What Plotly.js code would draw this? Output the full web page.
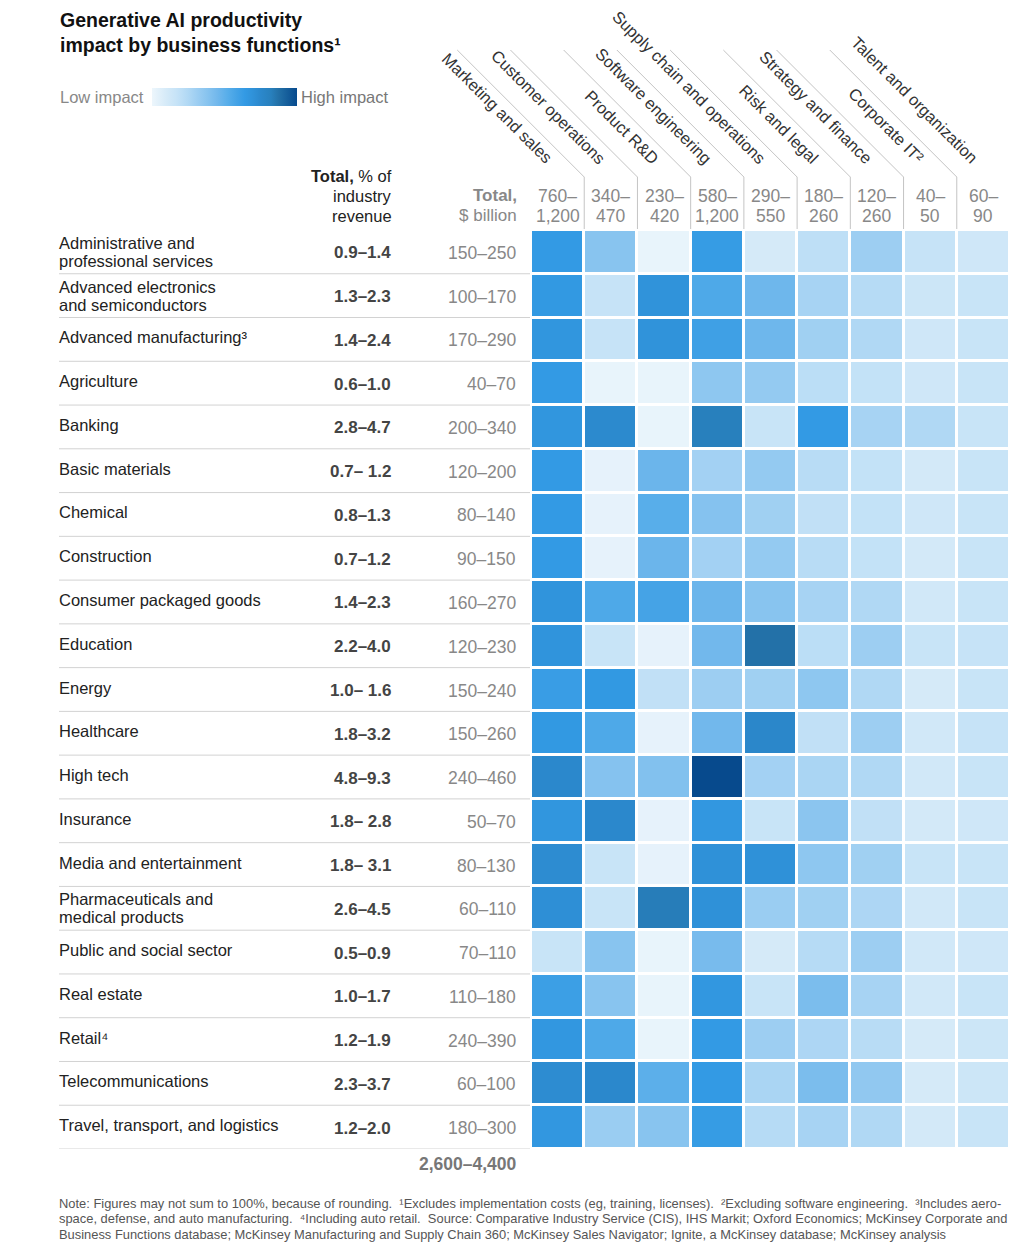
<!DOCTYPE html>
<html>
<head>
<meta charset="utf-8">
<script src="https://cdn.plot.ly/plotly-3.0.1.min.js"></script>
<style>html,body{margin:0;padding:0;background:#fff;}#chart{width:1023px;height:1249px;}</style>
</head>
<body>
<div id="chart"></div>
<script>
// ---------- DATA ----------
var industries = [
  "Administrative and<br>professional services",
  "Advanced electronics<br>and semiconductors",
  "Advanced manufacturing³",
  "Agriculture",
  "Banking",
  "Basic materials",
  "Chemical",
  "Construction",
  "Consumer packaged goods",
  "Education",
  "Energy",
  "Healthcare",
  "High tech",
  "Insurance",
  "Media and entertainment",
  "Pharmaceuticals and<br>medical products",
  "Public and social sector",
  "Real estate",
  "Retail⁴",
  "Telecommunications",
  "Travel, transport, and logistics"
];
var pctRevenue = ["0.9–1.4","1.3–2.3","1.4–2.4","0.6–1.0","2.8–4.7","0.7– 1.2","0.8–1.3","0.7–1.2","1.4–2.3","2.2–4.0","1.0– 1.6","1.8–3.2","4.8–9.3","1.8– 2.8","1.8– 3.1","2.6–4.5","0.5–0.9","1.0–1.7","1.2–1.9","2.3–3.7","1.2–2.0"];
var totalBillion = ["150–250","100–170","170–290","40–70","200–340","120–200","80–140","90–150","160–270","120–230","150–240","150–260","240–460","50–70","80–130","60–110","70–110","110–180","240–390","60–100","180–300"];
var grandTotal = "2,600–4,400";

var functions = ["Marketing and sales","Customer operations","Product R&D","Software engineering","Supply chain and operations","Risk and legal","Strategy and finance","Corporate IT²","Talent and organization"];
var functionTotals = ["760–<br>1,200","340–<br>470","230–<br>420","580–<br>1,200","290–<br>550","180–<br>260","120–<br>260","40–<br>50","60–<br>90"];

// relative impact (0 = low, 1 = high), read from cell shading
var marketingSales = [.64,.65,.67,.64,.67,.64,.64,.64,.68,.68,.62,.65,.75,.67,.73,.71,.16,.61,.66,.73,.66];
var customerOps    = [.38,.17,.17,.02,.74,.03,.03,.03,.55,.16,.65,.55,.39,.75,.16,.16,.38,.38,.55,.75,.32];
var productRD      = [.02,.69,.69,.02,.02,.47,.52,.47,.58,.03,.19,.03,.40,.03,.03,.83,.02,.02,.02,.51,.38];
var softwareEng    = [.63,.55,.60,.36,.82,.29,.39,.29,.47,.45,.31,.45,1.0,.66,.70,.70,.43,.66,.64,.64,.63];
var supplyChain    = [.10,.46,.46,.34,.16,.34,.30,.34,.38,.87,.30,.76,.29,.16,.70,.32,.10,.16,.31,.27,.23];
var riskLegal      = [.20,.28,.30,.21,.64,.22,.19,.22,.28,.21,.36,.19,.27,.37,.36,.30,.23,.42,.26,.42,.28];
var strategyFin    = [.31,.23,.25,.18,.28,.18,.18,.18,.25,.31,.25,.31,.25,.19,.30,.26,.31,.28,.22,.35,.25];
var corporateIT    = [.17,.14,.13,.13,.25,.11,.13,.11,.12,.16,.10,.12,.12,.11,.16,.12,.12,.12,.10,.10,.11];
var talentOrg      = [.13,.16,.16,.16,.16,.16,.16,.16,.16,.17,.16,.17,.16,.13,.16,.16,.13,.16,.14,.14,.16];

// ---------- BUILD ----------
var cols = [marketingSales, customerOps, productRD, softwareEng, supplyChain, riskLegal, strategyFin, corporateIT, talentOrg];
var z = industries.map(function(_, i){ return cols.map(function(c){ return c[i]; }); });

var W = 1023, H = 1249;
var plotL = 531, plotR = 1010, plotT = 230, plotB = 1149;
function px(p){ return p / W; }
function py(p){ return 1 - p / H; }
var colW = (plotR - plotL) / functions.length;

var colorscale = [
  [0.00, '#edf6fc'], [0.10, '#d5eaf8'], [0.17, '#c6e3f7'], [0.25, '#b0d8f4'],
  [0.31, '#9dcef2'], [0.38, '#88c4ef'], [0.45, '#72b8ec'], [0.52, '#58aeea'],
  [0.58, '#45a3e6'], [0.64, '#339ae4'], [0.70, '#2f91d8'], [0.75, '#2b88cc'],
  [0.82, '#2880bd'], [0.87, '#2371a8'], [1.00, '#074a8d']
];

var FONT = 'Liberation Sans, Arial, Helvetica, sans-serif';

var trace = {
  type: 'heatmap',
  z: z,
  x: functions.map(function(_, j){ return j; }),
  y: industries.map(function(_, i){ return i; }),
  zmin: 0, zmax: 1,
  colorscale: colorscale,
  xgap: 3, ygap: 3,
  hoverinfo: 'skip',
  showscale: true,
  colorbar: {
    orientation: 'h',
    x: px(224.5), xanchor: 'center',
    y: py(97), yanchor: 'middle',
    len: 145, lenmode: 'pixels',
    thickness: 18, thicknessmode: 'pixels',
    xpad: 0, ypad: 0,
    outlinewidth: 0,
    showticklabels: false, ticks: ''
  }
};

var annotations = [];
var shapes = [];

// helper: stack lines with a fixed spacing (px), first line centred at yTop
function stackLines(lines, xref, x, yTopPx, spacing, anchor, font) {
  lines.forEach(function(t, i){
    annotations.push({xref: xref, yref:'paper', x: x, y: py(yTopPx + i * spacing),
      xanchor: anchor, yanchor:'middle', text: t, showarrow:false, font: font});
  });
}

// title
annotations.push({
  xref: 'paper', yref: 'paper', x: px(58), y: py(7), xanchor: 'left', yanchor: 'top',
  text: '<b>Generative AI productivity<br>impact by business functions¹</b>', align: 'left',
  showarrow: false, font: {family: FONT, size: 19.5, color: '#111'}
});
// legend labels
annotations.push({xref:'paper', yref:'paper', x: px(58), y: py(97), xanchor:'left', yanchor:'middle',
  text:'Low impact', showarrow:false, font:{family:FONT, size:16.5, color:'#888'}});
annotations.push({xref:'paper', yref:'paper', x: px(299), y: py(97), xanchor:'left', yanchor:'middle',
  text:'High impact', showarrow:false, font:{family:FONT, size:16.5, color:'#777'}});

// column headers
stackLines(['<b>Total,</b> % of', 'industry', 'revenue'], 'paper', px(394), 176, 20, 'right',
  {family:FONT, size:16.5, color:'#222'});
stackLines(['<b>Total,</b>', '$ billion'], 'paper', px(519), 196, 20, 'right',
  {family:FONT, size:17, color:'#888'});

functions.forEach(function(f, j){
  annotations.push({xref:'x', yref:'paper', x: j, xshift: 1, y: py(170), xanchor:'right', yanchor:'bottom',
    textangle: 45, text: f, showarrow:false, font:{family:FONT, size:16.5, color:'#333'}});
  stackLines(functionTotals[j].split('<br>'), 'x', j, 196, 20, 'center',
    {family:FONT, size:17.5, color:'#888'});
});

// header divider lines
for (var k = 1; k < functions.length; k++) {
  var b = plotL + k * colW;
  shapes.push({type:'path', xref:'paper', yref:'paper',
    path: 'M ' + px(b - 127) + ',' + py(50) + ' L ' + px(b) + ',' + py(177) + ' L ' + px(b) + ',' + py(229),
    line:{color:'#c4c4c4', width:1}});
}

// row labels and values
industries.forEach(function(name, i){
  var parts = name.split('<br>');
  if (parts.length === 2) {
    annotations.push({xref:'paper', yref:'y', x: px(57), y: i, yshift: 9, xanchor:'left', yanchor:'middle', align:'left',
      text: parts[0], showarrow:false, font:{family:FONT, size:16.5, color:'#222'}});
    annotations.push({xref:'paper', yref:'y', x: px(57), y: i, yshift: -9, xanchor:'left', yanchor:'middle', align:'left',
      text: parts[1], showarrow:false, font:{family:FONT, size:16.5, color:'#222'}});
  } else {
    annotations.push({xref:'paper', yref:'y', x: px(57), y: i, yshift: 2, xanchor:'left', yanchor:'middle', align:'left',
      text: name, showarrow:false, font:{family:FONT, size:16.5, color:'#222'}});
  }
  annotations.push({xref:'paper', yref:'y', x: px(393), y: i, yshift: -1, xanchor:'right', yanchor:'middle',
    text: '<b>' + pctRevenue[i] + '</b>', showarrow:false, font:{family:FONT, size:17, color:'#444'}});
  annotations.push({xref:'paper', yref:'y', x: px(518), y: i, yshift: -1, xanchor:'right', yanchor:'middle',
    text: totalBillion[i], showarrow:false, font:{family:FONT, size:17.5, color:'#888'}});
  shapes.push({type:'line', xref:'paper', yref:'y', x0: px(59), x1: px(530), y0: i + 0.5, y1: i + 0.5,
    line:{color:'#d2d2d2', width:1}});
});

annotations.push({xref:'paper', yref:'paper', x: px(519), y: py(1164), xanchor:'right', yanchor:'middle',
  text:'<b>' + grandTotal + '</b>', showarrow:false, font:{family:FONT, size:17.5, color:'#777'}});

// footnote
var noteLines = [
  "Note: Figures may not sum to 100%, because of rounding.  ¹Excludes implementation costs (eg, training, licenses).  ²Excluding software engineering.  ³Includes aero-",
  "space, defense, and auto manufacturing.  ⁴Including auto retail.  Source: Comparative Industry Service (CIS), IHS Markit; Oxford Economics; McKinsey Corporate and",
  "Business Functions database; McKinsey Manufacturing and Supply Chain 360; McKinsey Sales Navigator; Ignite, a McKinsey database; McKinsey analysis"
];
noteLines.forEach(function(t, i){
  annotations.push({xref:'paper', yref:'paper', x: px(57), y: py(1203 + i * 15.5), xanchor:'left', yanchor:'middle',
    text: t, showarrow:false, font:{family:FONT, size:12.9, color:'#555'}});
});

var layout = {
  width: W, height: H,
  margin: {l:0, r:0, t:0, b:0},
  paper_bgcolor: '#fff', plot_bgcolor: '#fff',
  xaxis: {domain: [px(plotL), px(plotR)], range: [-0.5, functions.length - 0.5], showticklabels:false, showgrid:false, zeroline:false, ticks:'', fixedrange:true},
  yaxis: {domain: [py(plotB), py(plotT)], range: [industries.length - 0.5, -0.5], showticklabels:false, showgrid:false, zeroline:false, ticks:'', fixedrange:true},
  annotations: annotations,
  shapes: shapes,
  showlegend: false
};

Plotly.newPlot('chart', [trace], layout, {displayModeBar:false, staticPlot:true});
</script>
</body>
</html>
